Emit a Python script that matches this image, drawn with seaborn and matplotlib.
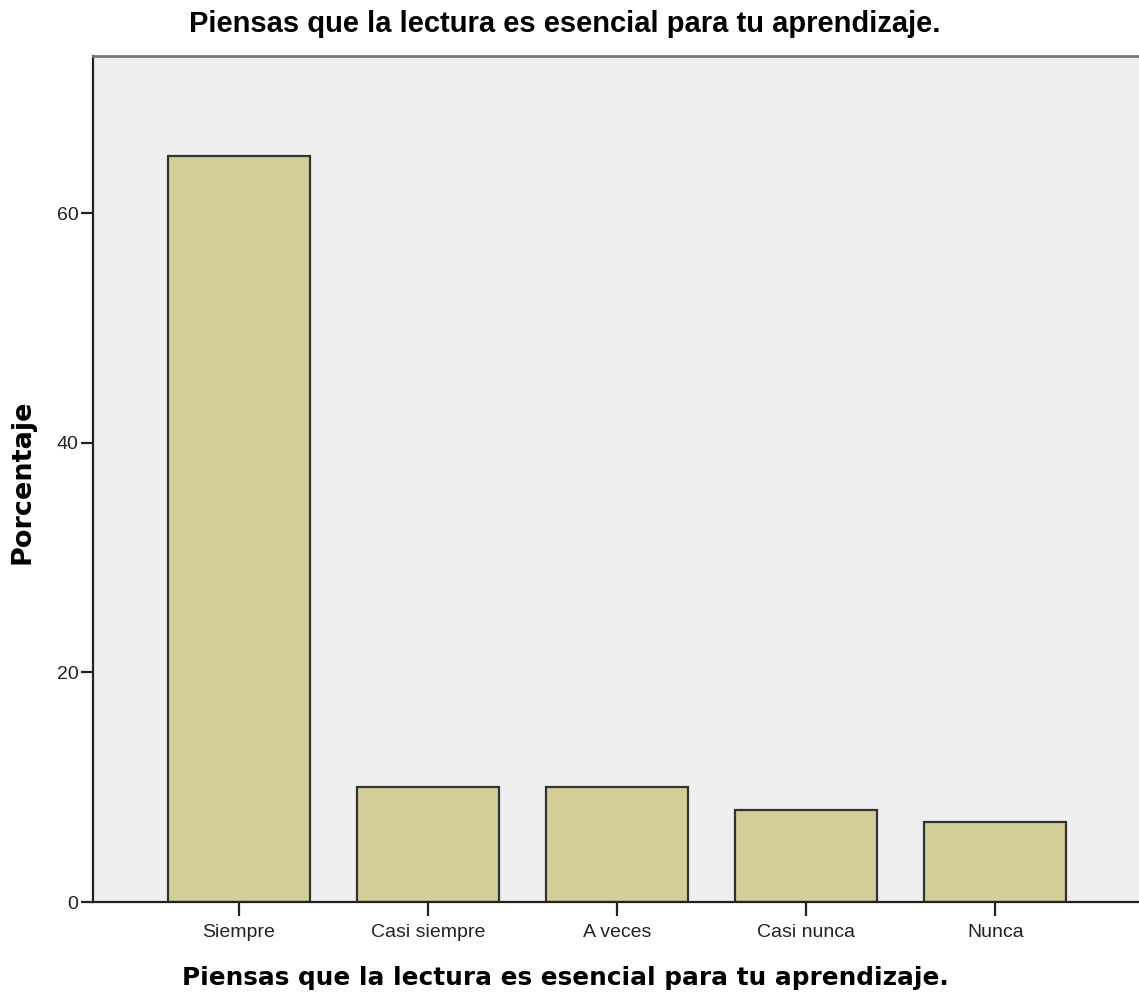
import matplotlib
matplotlib.use("Agg")
import matplotlib.pyplot as plt
import seaborn as sns
import pandas as pd

categories = ["Siempre", "Casi siempre", "A veces", "Casi nunca", "Nunca"]
percentages = [65.0, 10.0, 10.0, 8.0, 7.0]
y_ticks = [0, 20, 40, 60]
title = "Piensas que la lectura es esencial para tu aprendizaje."

df = pd.DataFrame({"cat": categories, "pct": percentages})

sns.set_style("white")
plt.rcParams["font.family"] = ["Liberation Sans", "DejaVu Sans"]

fig = plt.figure(figsize=(11.39, 9.96), dpi=100)
ax = fig.add_axes([93/1139, 94/996, 1 - 93/1139, (902-56)/996])
ax.set_facecolor("#EFEFEF")

sns.barplot(data=df, x="cat", y="pct", order=categories, color="#D3CE97",
            width=0.75, edgecolor="#333333", linewidth=1.6, saturation=1, ax=ax)

ax.set_xlim(-0.772, 4.76)
ax.set_ylim(0, 73.7)
ax.set_yticks(y_ticks)
ax.set_yticklabels([str(t) for t in y_ticks])

for s in ["left", "bottom"]:
    ax.spines[s].set_color("#222222")
    ax.spines[s].set_linewidth(1.6)
ax.spines["top"].set_color("#777777")
ax.spines["top"].set_linewidth(2)
ax.spines["right"].set_visible(False)

ax.tick_params(axis="both", direction="out", width=1.6, color="#222222",
               labelsize=14, labelcolor="#222222", bottom=True, left=True)
ax.tick_params(axis="x", length=10, pad=6)
ax.tick_params(axis="y", length=8.5, pad=2)

ax.set_xlabel(title, fontsize=17.8, fontweight="bold", family="DejaVu Sans", color="black")
ax.xaxis.set_label_coords((565 - 93) / 1046, -(966 - 902) / 846)
ax.set_ylabel("Porcentaje", fontsize=19.5, fontweight="bold", family="DejaVu Sans", color="black")
ax.yaxis.set_label_coords((36 - 93) / 1046, (902 - 482) / 846)
ax.set_title(title, fontsize=21, fontweight="bold", color="black", pad=17,
             x=(565 - 93) / 1046)

fig.savefig("out.png", dpi=100)
